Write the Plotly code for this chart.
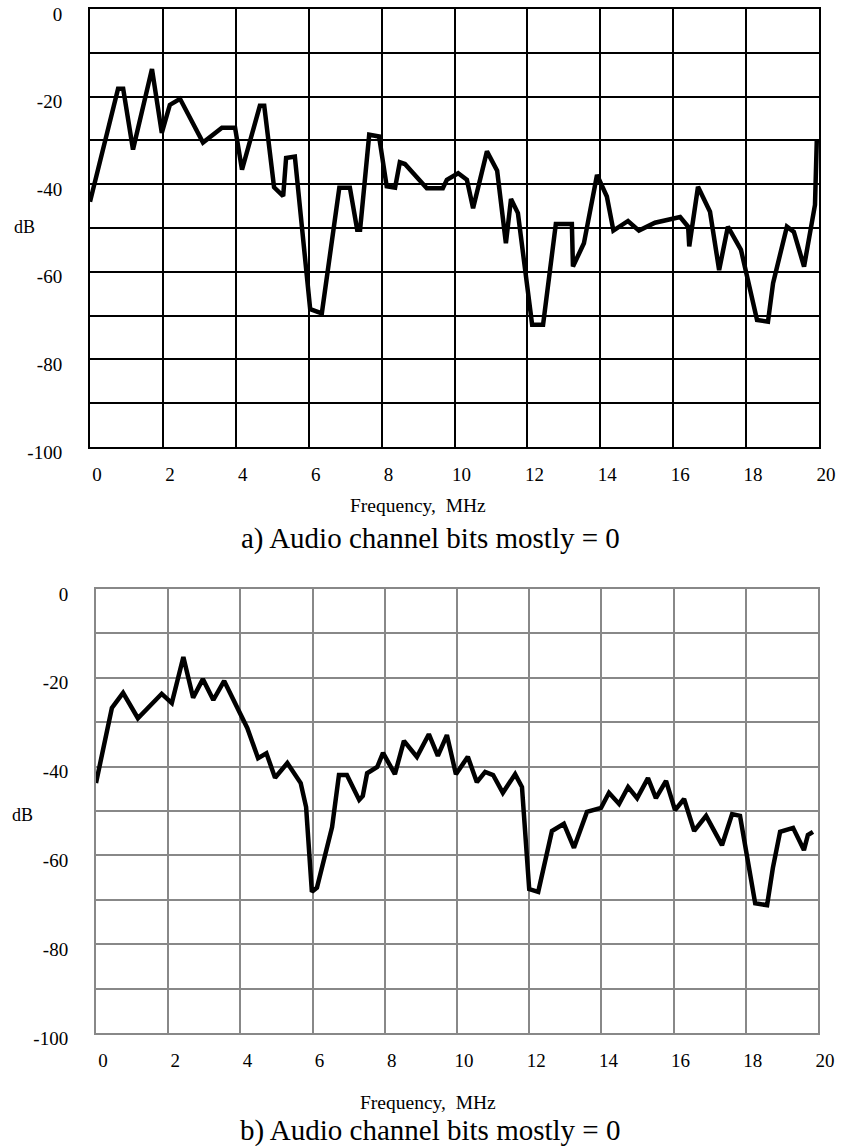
import plotly.graph_objects as go

# Spectrum, audio channel bits mostly = 0 (panel a)
freq_a = [0, 0.77, 0.91, 1.18, 1.70, 1.97, 2.19, 2.47, 3.10, 3.62, 3.98, 4.17, 4.66, 4.78,
          5.05, 5.30, 5.38, 5.62, 6.04, 6.36, 6.84, 7.13, 7.33, 7.41, 7.66, 7.93, 8.14, 8.37,
          8.50, 8.64, 9.24, 9.68, 9.79, 10.10, 10.34, 10.51, 10.89, 11.17, 11.41, 11.55, 11.74,
          12.13, 12.43, 12.78, 13.22, 13.25, 13.55, 13.91, 14.18, 14.36, 14.76, 15.06, 15.50,
          16.19, 16.41, 16.44, 16.68, 17.01, 17.26, 17.50, 17.86, 18.30, 18.60, 18.74, 19.12,
          19.31, 19.59, 19.89, 19.94]
db_a = [-44, -18.2, -18.2, -32.1, -13.7, -28.3, -21.9, -20.5, -30.5, -27.1, -27.1, -36.7,
        -22.1, -22.1, -40.7, -42.7, -34.0, -33.7, -68.5, -69.5, -40.8, -40.8, -50.4, -50.4,
        -28.7, -29.1, -40.5, -40.8, -35.0, -35.4, -40.9, -40.9, -39.0, -37.5, -39.0, -45.5,
        -32.5, -36.9, -53.5, -43.4, -46.6, -72.1, -72.1, -49.1, -49.1, -58.8, -53.5, -37.9,
        -42.8, -50.6, -48.4, -50.6, -48.8, -47.5, -49.7, -54.2, -40.6, -46.3, -59.6, -49.7,
        -55.0, -71.0, -71.4, -62.6, -49.7, -50.9, -58.8, -44.7, -29.8]

# Spectrum, panel b
freq_b = [0, 0.44, 0.75, 1.16, 1.82, 2.10, 2.42, 2.69, 2.96, 3.25, 3.55, 4.19, 4.49, 4.72,
          4.96, 5.30, 5.67, 5.82, 5.98, 6.12, 6.54, 6.73, 6.95, 7.29, 7.39, 7.51, 7.79, 7.95,
          8.28, 8.53, 8.89, 9.22, 9.47, 9.72, 9.97, 10.30, 10.55, 10.78, 11.00, 11.27, 11.61,
          11.80, 12.00, 12.25, 12.63, 12.96, 13.24, 13.60, 13.99, 14.21, 14.49, 14.74, 14.99,
          15.29, 15.51, 15.79, 16.04, 16.29, 16.57, 16.90, 17.34, 17.62, 17.84, 18.26, 18.59,
          18.75, 18.95, 19.31, 19.61, 19.72, 19.86]
db_b = [-43.7, -26.8, -23.4, -29.1, -23.6, -25.7, -15.3, -24.5, -20.3, -25.0, -20.7, -31.3,
        -38.1, -37.0, -42.5, -39.2, -43.7, -49.1, -68.2, -67.3, -53.6, -41.9, -41.9, -47.5,
        -46.6, -41.5, -40.1, -36.9, -41.7, -34.2, -37.8, -32.7, -37.6, -32.9, -41.7, -37.8,
        -43.5, -41.2, -41.9, -45.9, -41.7, -44.6, -67.6, -68.2, -54.5, -52.9, -58.3, -50.2,
        -49.3, -45.9, -48.4, -44.6, -47.1, -42.6, -47.1, -43.2, -49.8, -47.3, -54.5, -51.1,
        -57.7, -50.7, -51.1, -70.8, -71.2, -62.8, -54.7, -53.8, -58.8, -55.4, -54.7]

x_ticks = [0, 2, 4, 6, 8, 10, 12, 14, 16, 18, 20]
y_ticks = [0, -20, -40, -60, -80, -100]
y_tick_labels = ["0", "-20", "-40", "-60", "-80", "-100"]
captions = ["a) Audio channel bits mostly = 0", "b) Audio channel bits mostly = 0"]
x_title = "Frequency,  MHz"
y_title = "dB"

W, H = 842, 1146
FONT = "Liberation Serif"

fig = go.Figure()
fig.add_trace(go.Scatter(x=freq_a, y=db_a, mode="lines", xaxis="x", yaxis="y",
                         line=dict(color="black", width=4.5), showlegend=False))
fig.add_trace(go.Scatter(x=freq_b, y=db_b, mode="lines", xaxis="x2", yaxis="y2",
                         line=dict(color="black", width=4.5), showlegend=False))


def xaxis_style(domain, anchor, grid_color):
    return dict(domain=domain, anchor=anchor, range=[0, 20], tickvals=x_ticks,
                showgrid=True, gridcolor=grid_color, gridwidth=2,
                showline=True, linecolor=grid_color, linewidth=2, mirror=True,
                zeroline=False, ticks="", ticklabelstandoff=9, ticklabelshift=7,
                automargin=False,
                tickfont=dict(family=FONT, size=19, color="black"), fixedrange=True)


def yaxis_style(domain, anchor, grid_color):
    return dict(domain=domain, anchor=anchor, range=[-100, 0],
                tickvals=y_ticks, ticktext=y_tick_labels,
                showgrid=True, gridcolor=grid_color, gridwidth=2,
                minor=dict(dtick=10, showgrid=True, gridcolor=grid_color, gridwidth=2),
                showline=True, linecolor=grid_color, linewidth=2, mirror=True,
                zeroline=False, ticks="", ticklabelstandoff=22, ticklabelshift=5,
                automargin=False,
                tickfont=dict(family=FONT, size=19, color="black"), fixedrange=True)


fig.update_layout(
    template="none",
    width=W, height=H,
    margin=dict(l=0, r=0, t=0, b=0, autoexpand=False),
    paper_bgcolor="white", plot_bgcolor="white",
    font=dict(family=FONT, color="black"),
    xaxis=xaxis_style([90 / W, 819 / W], "y", "black"),
    yaxis=yaxis_style([1 - 447 / H, 1 - 9 / H], "x", "black"),
    xaxis2=xaxis_style([96 / W, 818 / W], "y2", "#888888"),
    yaxis2=yaxis_style([1 - 1033 / H, 1 - 589 / H], "x2", "#888888"),
)

annotations = [
    dict(text=y_title, x=24 / W, y=1 - 227 / H, font=dict(size=18)),
    dict(text=y_title, x=22 / W, y=1 - 815 / H, font=dict(size=18)),
    dict(text=x_title, x=418 / W, y=1 - 505 / H, font=dict(size=19.5)),
    dict(text=x_title, x=428 / W, y=1 - 1102 / H, font=dict(size=19.5)),
    dict(text=captions[0], x=430 / W, y=1 - 538 / H, font=dict(size=29)),
    dict(text=captions[1], x=430 / W, y=1 - 1130 / H, font=dict(size=29)),
]
for a in annotations:
    fig.add_annotation(xref="paper", yref="paper", xanchor="center", yanchor="middle",
                       showarrow=False, font_family=FONT, font_color="black", **a)

fig.write_html("out.html")
